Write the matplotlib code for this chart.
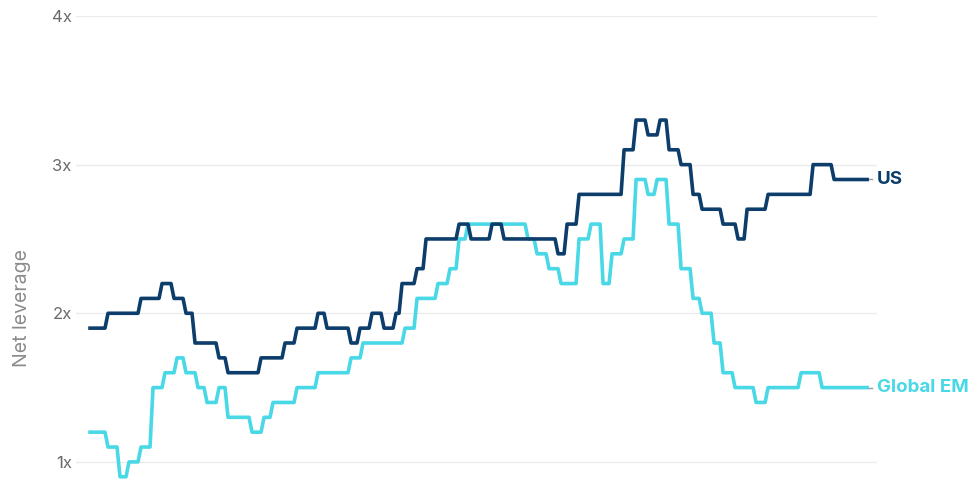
import numpy as np
import matplotlib.pyplot as plt

plt.rcParams['font.family'] = ['Inter', 'DejaVu Sans']

# net leverage levels, and the month in which each level begins
us_levels = [1.9, 2.0, 2.1, 2.2, 2.1, 2.0, 1.8, 1.7, 1.6, 1.7, 1.8, 1.9, 2.0, 1.9, 1.8,
             1.9, 2.0, 1.9, 2.0, 2.2, 2.3, 2.5, 2.6, 2.5, 2.6, 2.5, 2.4, 2.6, 2.8, 3.1,
             3.3, 3.2, 3.3, 3.1, 3.0, 2.8, 2.7, 2.6, 2.5, 2.7, 2.8, 3.0, 2.9]
us_starts = [0, 6, 17, 24, 28, 32, 35, 43, 46, 57, 65, 69, 76, 79, 87,
             90, 94, 98, 102, 104, 109, 112, 123, 127, 134, 138, 156, 159, 163, 178,
             182, 186, 190, 193, 197, 201, 204, 211, 216, 219, 226, 241, 248]

em_levels = [1.2, 1.1, 0.9, 1.0, 1.1, 1.5, 1.6, 1.7, 1.6, 1.5, 1.4, 1.5, 1.3, 1.2, 1.3,
             1.4, 1.5, 1.6, 1.7, 1.8, 1.9, 2.1, 2.2, 2.3, 2.5, 2.6, 2.5, 2.4, 2.3, 2.2,
             2.5, 2.6, 2.2, 2.4, 2.5, 2.9, 2.8, 2.9, 2.6, 2.3, 2.1, 2.0, 1.8, 1.6, 1.5,
             1.4, 1.5, 1.6, 1.5]
em_starts = [0, 6, 10, 13, 17, 21, 25, 29, 32, 36, 39, 43, 46, 54, 58,
             61, 69, 76, 87, 91, 105, 109, 116, 120, 123, 126, 146, 149, 153, 157,
             163, 167, 171, 174, 178, 182, 186, 189, 193, 197, 201, 204, 208, 211, 215,
             222, 226, 237, 244]

n_months = 260

us_color = '#0c3d6b'
em_color = '#48d8e6'


def monthly(levels, starts, n):
    lens = np.diff(starts + [n])
    return np.repeat(levels, lens)


us = monthly(us_levels, us_starts, n_months)
em = monthly(em_levels, em_starts, n_months)
months = np.arange(n_months)

fig = plt.figure(figsize=(9.72, 4.79), dpi=100)
ax = fig.add_axes([76 / 972, 0, 801 / 972, 463 / 479])

ax.plot(months, em, color=em_color, lw=2.6, solid_joinstyle='round', clip_on=False, zorder=3)
ax.plot(months, us, color=us_color, lw=2.6, solid_joinstyle='round', clip_on=False, zorder=4)

# end labels with a small connector
last = months[-1]
for vals, name, col in [(us, 'US', us_color), (em, 'Global EM', em_color)]:
    ax.plot([last, last + 1.8], [vals[-1], vals[-1]], color='#9a9a9a', lw=1, clip_on=False)
    ax.text(last + 3.3, vals[-1], name, color=col, fontsize=13.5, fontweight='bold',
            va='center', ha='left', clip_on=False)

ax.set_xlim(-4.67, 262.3)
ax.set_ylim(0.885, 4.0)
ax.set_yticks([1, 2, 3, 4])
ax.set_yticklabels(['1x', '2x', '3x', '4x'])
ax.set_xticks([])
ax.tick_params(axis='y', length=0, pad=3, labelsize=12, labelcolor='#6a6a6a')
ax.grid(axis='y', color='#ebebeb', lw=1)
ax.set_axisbelow(True)
for s in ax.spines.values():
    s.set_visible(False)

fig.text(22 / 972, 1 - 308 / 479, 'Net leverage', rotation=90, ha='center', va='center',
         fontsize=14, color='#8a8a8a')

fig.savefig('out.png', dpi=100)
